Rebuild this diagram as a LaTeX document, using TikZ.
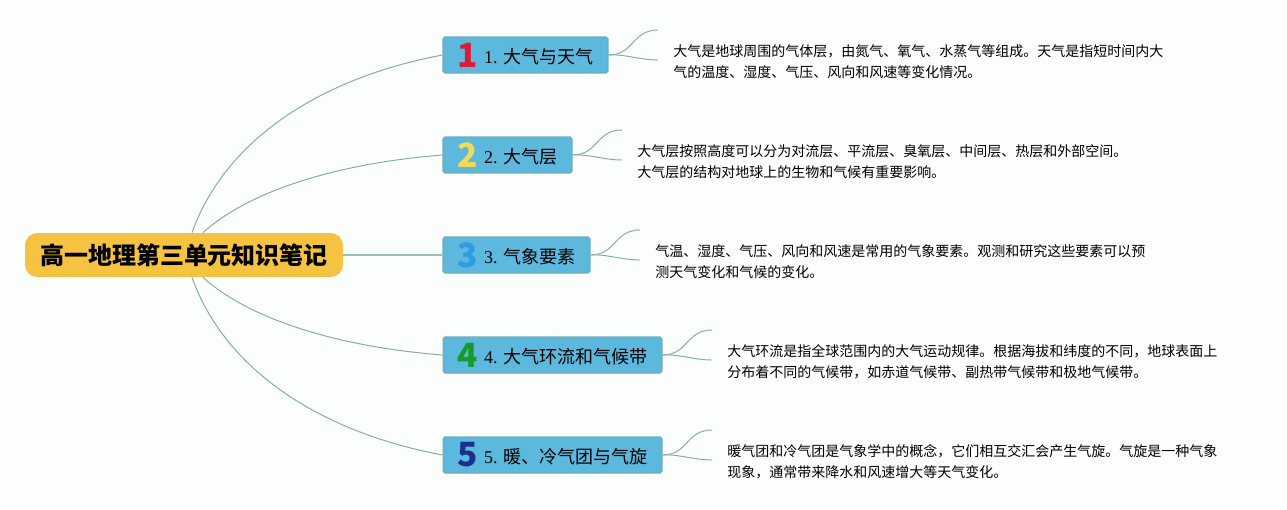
\documentclass[tikz,border=0pt]{standalone}
\usepackage{fontspec}
\setmainfont{Liberation Serif}
\newfontfamily\cjk{Noto Sans CJK SC}
\definecolor{paper}{HTML}{FCFDFD}
\definecolor{skin}{HTML}{F5C242}
\definecolor{boxblue}{HTML}{5CB8DC}
\definecolor{boxline}{HTML}{6FAFB0}
\definecolor{twig}{HTML}{7FAFA3}
\definecolor{leadline}{HTML}{94C3B8}
\definecolor{numred}{HTML}{DC1A3C}
\definecolor{numyellow}{HTML}{F2DC55}
\definecolor{numblue}{HTML}{2E9BE6}
\definecolor{numgreen}{HTML}{169B2C}
\definecolor{numnavy}{HTML}{1A2F8C}
\newcommand{\bignum}[2]{\raisebox{-2.2pt}{\cjk\bfseries\fontsize{19}{20}\selectfont\textcolor{#1}{#2}}\hspace{3.6pt}}
\tikzset{
  topic/.style={draw=boxline,line width=0.6pt,fill=boxblue,rounded corners=1pt,minimum height=0.72cm,inner sep=0pt,font=\fontsize{10.25}{12}\selectfont},
  note/.style={anchor=north west,align=left,inner sep=0pt,font=\cjk\fontsize{7.97}{11.9}\selectfont},
  twigline/.style={twig,line width=0.55pt},
}
\begin{document}
\begin{tikzpicture}[x=0.02cm,y=-0.02cm]
    \fill[paper] (0,0) rectangle (1287,510);
    \node[fill=skin,rounded corners=7pt,minimum width=6.36cm,minimum height=0.88cm,inner sep=0pt,font=\cjk\bfseries\fontsize{13.65}{16}\selectfont] (main) at (184,255) {高一地理第三单元知识笔记};
    \node[topic,minimum width=3.3cm] (t1) at (525.5,55) {\bignum{numred}{1}1. {\cjk 大气与天气}};
    \node[topic,minimum width=2.58cm] (t2) at (507.5,155) {\bignum{numyellow}{2}2. {\cjk 大气层}};
    \node[topic,minimum width=2.94cm] (t3) at (516.5,255) {\bignum{numblue}{3}3. {\cjk 气象要素}};
    \node[topic,minimum width=4.38cm] (t4) at (552.5,355) {\bignum{numgreen}{4}4. {\cjk 大气环流和气候带}};
    \node[topic,minimum width=4.38cm] (t5) at (552.5,455) {\bignum{numnavy}{5}5. {\cjk 暖、冷气团与气旋}};
    % notes
    \node[note] (n1) at (673,44) {大气是地球周围的气体层，由氮气、氧气、水蒸气等组成。天气是指短时间内大\\气的温度、湿度、气压、风向和风速等变化情况。};
    \node[note] (n2) at (637,144) {大气层按照高度可以分为对流层、平流层、臭氧层、中间层、热层和外部空间。\\大气层的结构对地球上的生物和气候有重要影响。};
    \node[note] (n3) at (655,244) {气温、湿度、气压、风向和风速是常用的气象要素。观测和研究这些要素可以预\\测天气变化和气候的变化。};
    \node[note] (n4) at (727,344) {大气环流是指全球范围内的大气运动规律。根据海拔和纬度的不同，地球表面上\\分布着不同的气候带，如赤道气候带、副热带气候带和极地气候带。};
    \node[note] (n5) at (727,444) {暖气团和冷气团是气象学中的概念，它们相互交汇会产生气旋。气旋是一种气象\\现象，通常带来降水和风速增大等天气变化。};
    % free ends of the short branches
    \coordinate (e1a) at (658,30);
    \coordinate (e1b) at (658,60);
    \coordinate (e2a) at (622,130);
    \coordinate (e2b) at (622,160);
    \coordinate (e3a) at (640,230);
    \coordinate (e3b) at (640,260);
    \coordinate (e4a) at (712,330);
    \coordinate (e4b) at (712,360);
    \coordinate (e5a) at (712,430);
    \coordinate (e5b) at (712,460);
    % main branches
    \draw[twigline] ([xshift=0.16cm]main.north) .. controls (225,140) and (320,78) .. (t1.west);
    \draw[twigline] ([xshift=0.38cm]main.north) .. controls (250,190) and (340,163) .. (t2.west);
    \draw[leadline,line width=0.8pt] (main.east) -- (t3.west);
    \draw[twigline] ([xshift=0.38cm]main.south) .. controls (250,320) and (340,347) .. (t4.west);
    \draw[twigline] ([xshift=0.16cm]main.south) .. controls (225,370) and (320,432) .. (t5.west);
    % short branches
    \draw[twigline] (t1.east) .. controls (634,55) and (632,30) .. (e1a);
    \draw[twigline] (t1.east) .. controls (625,54) and (640,60) .. (e1b);
    \draw[twigline] (t2.east) .. controls (598,155) and (596,130) .. (e2a);
    \draw[twigline] (t2.east) .. controls (589,154) and (604,160) .. (e2b);
    \draw[twigline] (t3.east) .. controls (616,255) and (614,230) .. (e3a);
    \draw[twigline] (t3.east) .. controls (607,254) and (622,260) .. (e3b);
    \draw[twigline] (t4.east) .. controls (688,355) and (686,330) .. (e4a);
    \draw[twigline] (t4.east) .. controls (679,354) and (694,360) .. (e4b);
    \draw[twigline] (t5.east) .. controls (688,455) and (686,430) .. (e5a);
    \draw[twigline] (t5.east) .. controls (679,454) and (694,460) .. (e5b);
\end{tikzpicture}
\end{document}
